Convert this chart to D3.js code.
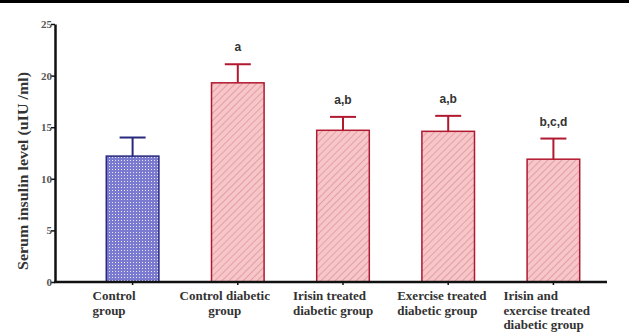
<!DOCTYPE html>
<html>
<head>
<meta charset="utf-8">
<script src="https://cdn.jsdelivr.net/npm/d3@7"></script>
<style>
  html, body { margin: 0; padding: 0; background: #fff; }
  svg { display: block; }
</style>
</head>
<body>
<svg id="chart" width="629" height="333"></svg>
<script>
// Serum insulin by group (mean ± SD)
const groups = ["Control group", "Control diabetic group", "Irisin treated diabetic group",
                "Exercise treated diabetic group", "Irisin and exercise treated diabetic group"];
const labelLines = [["Control", "group"], ["Control diabetic", "group"], ["Irisin treated", "diabetic group"],
                    ["Exercise treated", "diabetic group"], ["Irisin and", "exercise treated", "diabetic group"]];
const labelAlign = ["start", "middle", "start", "start", "start"];
const labelShift = [-40, -13, -50, -51, -50];
const means = [12.2, 19.3, 14.7, 14.6, 11.9];
const errors = [1.8, 1.8, 1.3, 1.5, 2.0];
const signif = ["", "a", "a,b", "a,b", "b,c,d"];
const yTicks = [0, 5, 10, 15, 20, 25];

const svg = d3.select("#chart");
const W = 629, H = 333;

// black strip at the top edge
svg.append("rect").attr("x", 0).attr("y", 0).attr("width", W).attr("height", 3).attr("fill", "#000");

const x = d3.scaleBand().domain(groups).range([80, 606]).paddingInner(0.5).paddingOuter(0.25);
const y = d3.scaleLinear().domain([0, 25]).range([282, 24]);

const defs = svg.append("defs");
// dotted fill for the control bar
const dots = defs.append("pattern").attr("id", "dots").attr("patternUnits", "userSpaceOnUse")
  .attr("width", 3).attr("height", 3);
dots.append("rect").attr("width", 3).attr("height", 3).attr("fill", "#7a7ad0");
dots.append("rect").attr("x", 1).attr("y", 1).attr("width", 1).attr("height", 1).attr("fill", "#e8e8fb");
// diagonal hatch for the diabetic groups
const hatch = defs.append("pattern").attr("id", "hatch").attr("patternUnits", "userSpaceOnUse")
  .attr("width", 5).attr("height", 5).attr("patternTransform", "rotate(45)");
hatch.append("rect").attr("width", 5).attr("height", 5).attr("fill", "#f6c6c8");
hatch.append("line").attr("x1", 0).attr("y1", 0).attr("x2", 0).attr("y2", 5)
  .attr("stroke", "#df8e94").attr("stroke-width", 1.4);

const fills = ["url(#dots)", "url(#hatch)", "url(#hatch)", "url(#hatch)", "url(#hatch)"];
const strokes = ["#27287e", "#b0192f", "#b0192f", "#b0192f", "#b0192f"];

// error bars (behind bars)
const eb = svg.append("g");
groups.forEach((g, i) => {
  const cx = x(g) + x.bandwidth() / 2;
  eb.append("line").attr("x1", cx).attr("x2", cx).attr("y1", y(means[i])).attr("y2", y(means[i] + errors[i]))
    .attr("stroke", strokes[i]).attr("stroke-width", 2);
  eb.append("line").attr("x1", cx - 13).attr("x2", cx + 13)
    .attr("y1", y(means[i] + errors[i])).attr("y2", y(means[i] + errors[i]))
    .attr("stroke", strokes[i]).attr("stroke-width", 2);
});

// bars
svg.append("g").selectAll("rect").data(groups).join("rect")
  .attr("x", d => x(d)).attr("width", x.bandwidth())
  .attr("y", (d, i) => y(means[i])).attr("height", (d, i) => y(0) - y(means[i]))
  .attr("fill", (d, i) => fills[i]).attr("stroke", (d, i) => strokes[i]).attr("stroke-width", 1.5);

// significance letters
svg.append("g").selectAll("text").data(groups).join("text")
  .attr("x", d => x(d) + x.bandwidth() / 2)
  .attr("y", (d, i) => y(means[i] + errors[i]) - 13)
  .attr("text-anchor", "middle")
  .attr("font-family", "Liberation Sans, Arial, sans-serif").attr("font-weight", "bold")
  .attr("font-size", 12).attr("fill", "#333")
  .text((d, i) => signif[i]);

// y axis
const yAxis = svg.append("g").attr("transform", "translate(55,0)")
  .call(d3.axisLeft(y).tickValues(yTicks).tickSize(4).tickSizeOuter(0));
yAxis.select(".domain").attr("stroke", "#111").attr("stroke-width", 2.5);
yAxis.selectAll(".tick line").attr("stroke", "#111").attr("stroke-width", 1.5);
yAxis.selectAll(".tick text").attr("font-family", "Liberation Serif, Times New Roman, serif")
  .attr("font-weight", "bold").attr("font-size", 11).attr("fill", "#555").attr("x", -3);

// x axis
const xAxis = svg.append("g").attr("transform", `translate(0,${y(0)})`)
  .call(d3.axisBottom(x).tickSize(3).tickSizeOuter(0).tickFormat(""));
xAxis.select(".domain").attr("d", "M54,0H607").attr("stroke", "#111").attr("stroke-width", 2.5);
xAxis.selectAll(".tick line").attr("stroke", "#111").attr("stroke-width", 1.5);

// category labels
const lab = svg.append("g");
groups.forEach((g, i) => {
  const cx = x(g) + x.bandwidth() / 2;
  const t = lab.append("text")
    .attr("x", cx + labelShift[i]).attr("y", 300)
    .attr("text-anchor", labelAlign[i])
    .attr("font-family", "Liberation Serif, Times New Roman, serif").attr("font-weight", "bold")
    .attr("font-size", 13).attr("fill", "#333");
  labelLines[i].forEach((ln, k) => {
    t.append("tspan").attr("x", cx + labelShift[i]).attr("dy", k === 0 ? 0 : 14.5).text(ln);
  });
});

// y axis title
svg.append("text")
  .attr("transform", `translate(28,${(y(0) + y(25)) / 2 + 18}) rotate(-90)`)
  .attr("text-anchor", "middle")
  .attr("font-family", "Liberation Serif, Times New Roman, serif").attr("font-weight", "bold")
  .attr("font-size", 14).attr("fill", "#333")
  .attr("textLength", 198).attr("lengthAdjust", "spacingAndGlyphs")
  .text("Serum insulin level (uIU /ml)");
</script>
</body>
</html>
